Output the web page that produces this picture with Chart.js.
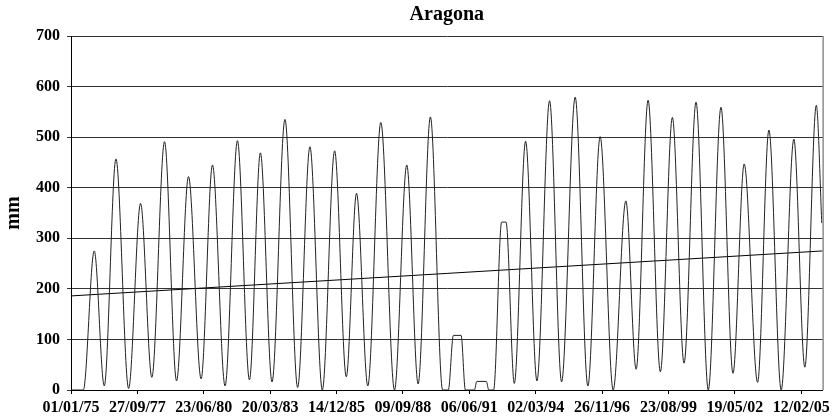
<!DOCTYPE html>
<html>
<head>
<meta charset="utf-8">
<script src="https://cdn.jsdelivr.net/npm/chart.js@4"></script>
<style>
  body { margin: 0; background: #fff; }
</style>
</head>
<body>
<canvas id="aragonaChart" width="834" height="419"></canvas>
<script>
// days since 01/01/75 and value in mm (peaks and troughs)
const days = [0, 185, 350, 501, 677, 868, 1048, 1218, 1409, 1590,
  1770, 1960, 2131, 2321, 2507, 2688, 2853, 3028, 3223, 3414,
  3599, 3786, 3971, 4147, 4301, 4471, 4667, 4873, 5058, 5229,
  5414, 5598, 5684, 5760, 5876, 5941, 6076, 6113, 6256, 6294,
  6366, 6487, 6553, 6678, 6848, 7019, 7209, 7390, 7595, 7786,
  7971, 8167, 8358, 8513, 8693, 8878, 9059, 9235, 9415, 9600,
  9791, 9972, 10141, 10343, 10513, 10698, 10889, 11054, 11227, 11310];
const mm = [0, 0, 275, 8, 457, 3, 369, 25, 491, 18,
  422, 22, 445, 8, 493, 20, 469, 16, 535, 5,
  481, 0, 473, 26, 389, 8, 529, 0, 445, 12,
  540, 0, 0, 108, 108, 0, 0, 17, 17, 0,
  0, 332, 332, 13, 492, 18, 572, 16, 579, 8,
  501, 0, 374, 41, 573, 36, 539, 53, 569, 0,
  559, 33, 447, 15, 514, 0, 496, 45, 563, 330];

// linear trend
const trendDays = [0, 11322];
const trendMm = [186, 275];

// one label every 1000 days
const tickLabels = ['01/01/75', '27/09/77', '23/06/80', '20/03/83', '14/12/85', '09/09/88',
  '06/06/91', '02/03/94', '26/11/96', '23/08/99', '19/05/02', '12/02/05'];

const serif = 'Liberation Serif, Times New Roman, serif';

// frame on the right side of the plot area
const frame = {
  id: 'frame',
  afterDraw(chart) {
    const a = chart.chartArea;
    const ctx = chart.ctx;
    ctx.save();
    ctx.strokeStyle = '#555';
    ctx.lineWidth = 1;
    ctx.beginPath();
    ctx.moveTo(a.right + 0.5, a.top);
    ctx.lineTo(a.right + 0.5, a.bottom);
    ctx.stroke();
    ctx.restore();
  }
};

const ctx = document.getElementById('aragonaChart').getContext('2d');
const aragonaChart = new Chart(ctx, {
  type: 'line',
  data: {
    datasets: [{
      label: 'Aragona',
      data: days.map((d, i) => ({ x: d, y: mm[i] })),
      borderColor: '#222',
      borderWidth: 1,
      pointRadius: 0,
      cubicInterpolationMode: 'monotone',
      fill: false
    }, {
      label: 'Trend',
      data: trendDays.map((d, i) => ({ x: d, y: trendMm[i] })),
      borderColor: '#000',
      borderWidth: 1,
      pointRadius: 0,
      fill: false
    }]
  },
  options: {
    responsive: false,
    animation: false,
    layout: { padding: { left: 0, right: 11, top: 0, bottom: 0 } },
    plugins: {
      legend: { display: false },
      tooltip: { enabled: false },
      title: {
        display: true,
        text: 'Aragona',
        fullSize: false,
        color: '#000',
        font: { family: serif, size: 20, weight: 'bold' },
        padding: { top: 3, bottom: 9 }
      }
    },
    scales: {
      x: {
        type: 'linear',
        min: 0,
        max: 11322,
        afterBuildTicks(scale) {
          scale.ticks = tickLabels.map((_, i) => ({ value: i * 1000 }));
        },
        afterFit(scale) { scale.height = 29; },
        ticks: {
          autoSkip: false,
          maxRotation: 0,
          padding: 4,
          color: '#000',
          font: { family: serif, size: 16, weight: 'bold' },
          callback: (v, i) => tickLabels[i]
        },
        grid: { drawOnChartArea: false, tickLength: 4, color: '#000' },
        border: { color: '#000', width: 1 }
      },
      y: {
        min: 0,
        max: 700,
        afterFit(scale) { scale.width = 71; },
        ticks: {
          stepSize: 100,
          padding: 7,
          color: '#000',
          font: { family: serif, size: 16, weight: 'bold' }
        },
        grid: { color: '#333', tickLength: 4, lineWidth: 1 },
        border: { color: '#000', width: 1 },
        title: {
          display: true,
          text: 'mm',
          color: '#000',
          font: { family: serif, size: 20, weight: 'bold' },
          padding: { top: 2, bottom: 0 }
        }
      }
    }
  },
  plugins: [frame]
});
</script>
</body>
</html>
